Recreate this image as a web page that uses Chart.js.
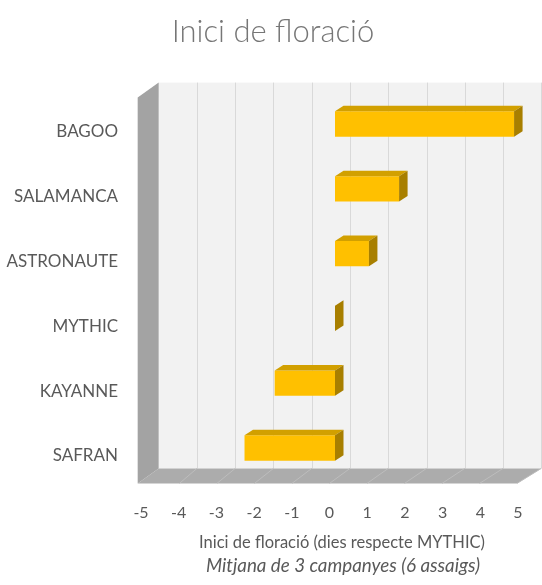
<!DOCTYPE html>
<html>
<head>
<meta charset="utf-8">
<script src="https://cdn.jsdelivr.net/npm/chart.js@4"></script>
<style>
    html, body { margin: 0; padding: 0; background: #ffffff; }
    #wrap { width: 542px; height: 585px; }
</style>
</head>
<body>
<div id="wrap"><canvas id="floracioChart" width="542" height="585"></canvas></div>
<script>
// Chart data
const varietats = ['BAGOO', 'SALAMANCA', 'ASTRONAUTE', 'MYTHIC', 'KAYANNE', 'SAFRAN'];
const diesRespecteMythic = [4.75, 1.7, 0.9, 0, -1.6, -2.4];
const xMin = -5;
const xMax = 5;
const xTicks = [-5, -4, -3, -2, -1, 0, 1, 2, 3, 4, 5];

const titol = 'Inici de floració';
const titolEix = 'Inici de floració (dies respecte MYTHIC)';
const nota = 'Mitjana de 3 campanyes (6 assaigs)';

const FONT = 'Lato, "Open Sans", sans-serif';

// Fake 3D: back wall, left wall and floor drawn around the bar plane
const walls3d = {
    id: 'walls3d',
    beforeDatasetsDraw(chart) {
        const { ctx, chartArea, scales } = chart;
        const x = scales.x;
        const x0 = x.getPixelForValue(0);
        const backX = v => x0 + 15 + (x.getPixelForValue(v) - x0) * 1.015;
        const frontX = v => x0 - 5.5 + (x.getPixelForValue(v) - x0) * 0.995;
        const backTop = chartArea.top - 9;
        const backBottom = chartArea.bottom - 12;
        const frontBottom = chartArea.bottom + 3;
        const wallFront = backX(xMin) - 21;

        ctx.save();
        // back wall
        ctx.fillStyle = '#f2f2f2';
        ctx.fillRect(backX(xMin), backTop, backX(xMax) - backX(xMin), backBottom - backTop);
        ctx.strokeStyle = '#d9d9d9';
        ctx.lineWidth = 1;
        xTicks.forEach(v => {
            if (v === xMin) return;
            const px = Math.round(backX(v)) + 0.5;
            ctx.beginPath();
            ctx.moveTo(px, backTop);
            ctx.lineTo(px, backBottom);
            ctx.stroke();
        });

        // floor
        ctx.fillStyle = '#acacac';
        ctx.beginPath();
        ctx.moveTo(backX(xMin), backBottom);
        ctx.lineTo(backX(xMax), backBottom);
        ctx.lineTo(frontX(xMax), frontBottom);
        ctx.lineTo(wallFront, frontBottom);
        ctx.closePath();
        ctx.fill();
        ctx.strokeStyle = '#bdbdbd';
        xTicks.forEach(v => {
            if (v === xMin) return;
            ctx.beginPath();
            ctx.moveTo(backX(v), backBottom);
            ctx.lineTo(frontX(v), frontBottom);
            ctx.stroke();
        });

        // left wall
        ctx.fillStyle = '#a3a3a3';
        ctx.beginPath();
        ctx.moveTo(backX(xMin), backTop);
        ctx.lineTo(backX(xMin), backBottom);
        ctx.lineTo(wallFront, frontBottom);
        ctx.lineTo(wallFront, backTop + 15);
        ctx.closePath();
        ctx.fill();
        ctx.restore();
    },
    afterDatasetsDraw(chart) {
        // top and side faces of each bar
        const { ctx } = chart;
        const dx = 8.5, dy = -5.5;
        const meta = chart.getDatasetMeta(0);
        ctx.save();
        meta.data.forEach(bar => {
            const p = bar.getProps(['x', 'y', 'base', 'height'], true);
            const left = Math.min(p.x, p.base);
            const right = Math.max(p.x, p.base);
            const top = p.y - p.height / 2;
            const bottom = p.y + p.height / 2;

            ctx.fillStyle = '#d2a000';
            ctx.beginPath();
            ctx.moveTo(left, top);
            ctx.lineTo(left + dx, top + dy);
            ctx.lineTo(right + dx, top + dy);
            ctx.lineTo(right, top);
            ctx.closePath();
            ctx.fill();

            ctx.fillStyle = '#a87f00';
            ctx.beginPath();
            ctx.moveTo(right, top);
            ctx.lineTo(right + dx, top + dy);
            ctx.lineTo(right + dx, bottom + dy);
            ctx.lineTo(right, bottom);
            ctx.closePath();
            ctx.fill();
        });
        ctx.restore();
    },
    afterDraw(chart) {
        // axis title and note under the ticks
        const { ctx } = chart;
        ctx.save();
        ctx.fillStyle = '#595959';
        ctx.textAlign = 'center';
        ctx.textBaseline = 'middle';
        ctx.font = '16.5px ' + FONT;
        ctx.fillText(titolEix, 342, 543);
        ctx.font = 'italic 18.8px ' + FONT;
        ctx.fillText(nota, 343, 566);
        ctx.restore();
    }
};

const ctx = document.getElementById('floracioChart').getContext('2d');
new Chart(ctx, {
    type: 'bar',
    data: {
        labels: varietats,
        datasets: [{
            label: titolEix,
            data: diesRespecteMythic,
            backgroundColor: '#ffc000',
            borderWidth: 0,
            barPercentage: 0.39,
            categoryPercentage: 1
        }]
    },
    options: {
        indexAxis: 'y',
        responsive: false,
        animation: false,
        layout: {
            padding: { left: 4, right: 0, top: 0, bottom: 0 }
        },
        scales: {
            x: {
                min: xMin,
                max: xMax,
                grid: { display: false, drawTicks: false },
                border: { display: false },
                ticks: {
                    stepSize: 1,
                    color: '#595959',
                    font: { family: FONT, size: 16 },
                    padding: 23,
                    labelOffset: -5.5
                },
                afterFit(scale) {
                    scale.height = 104.6;
                    scale.paddingLeft = 0;
                    scale.paddingRight = 18.5;
                }
            },
            y: {
                grid: { display: false, drawTicks: false },
                border: { display: false },
                ticks: {
                    color: '#595959',
                    font: { family: FONT, size: 17 },
                    padding: 28.5,
                    labelOffset: 8
                },
                afterFit(scale) {
                    scale.width = 142.5;
                }
            }
        },
        plugins: {
            legend: { display: false },
            tooltip: { enabled: false },
            title: {
                display: true,
                text: titol,
                color: '#767676',
                font: { family: FONT, size: 31, weight: '300' },
                padding: { top: 12.9, bottom: 41.5 }
            }
        }
    },
    plugins: [walls3d]
});
</script>
</body>
</html>
